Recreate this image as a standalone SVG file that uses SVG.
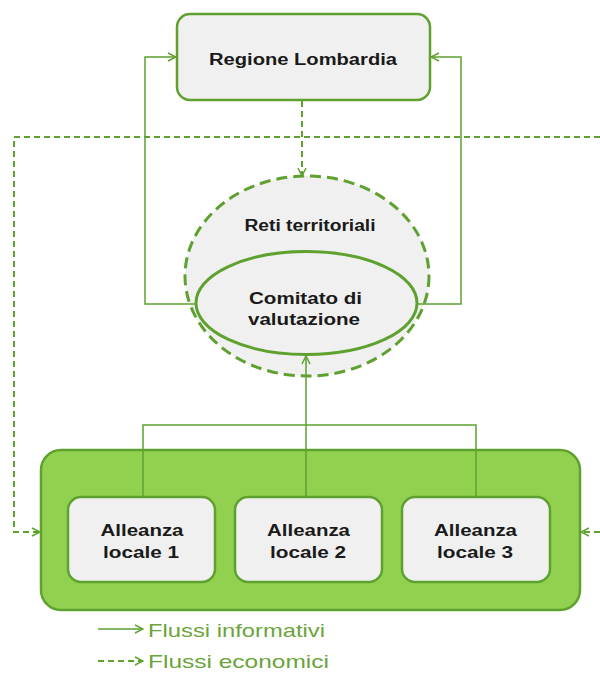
<svg xmlns="http://www.w3.org/2000/svg" width="600" height="678" viewBox="0 0 600 678">
<defs>
<style>
.box{fill:#f0f0f0;stroke:#5ea12f;stroke-width:2.5}
.lbl{font-family:"Liberation Sans",Arial,sans-serif;font-weight:bold;font-size:16px;fill:#1a1a1a;text-anchor:middle}
.leg{font-family:"Liberation Sans",Arial,sans-serif;font-size:19px;fill:#6aa43a}
.solid{fill:none;stroke:#5ea12f;stroke-width:1.5}
.dash{fill:none;stroke:#5ea12f;stroke-width:2;stroke-dasharray:6 4}
</style>
<marker id="ah" viewBox="0 0 10 10" refX="9" refY="5" markerWidth="10" markerHeight="10" markerUnits="userSpaceOnUse" orient="auto">
<path d="M1,1 L9,5 L1,9" fill="none" stroke="#5ea12f" stroke-width="1.5"/>
</marker>
</defs>
<rect width="600" height="678" fill="#ffffff"/>

<g id="alleanze-group">
<rect x="41" y="450" width="539" height="160" rx="20" fill="#92d050" stroke="#5ea12f" stroke-width="2.5"/>
</g>

<g id="regione">
<rect class="box" x="177" y="14" width="253" height="86" rx="13"/>
<text class="lbl" x="303" y="65" textLength="188" lengthAdjust="spacingAndGlyphs">Regione Lombardia</text>
</g>

<g id="reti">
<ellipse cx="307" cy="276" rx="122" ry="100" fill="#f0f0f0" stroke="#5ea12f" stroke-width="3" stroke-dasharray="11 6"/>
<text class="lbl" x="310" y="231" textLength="131" lengthAdjust="spacingAndGlyphs">Reti territoriali</text>
</g>

<g id="comitato">
<ellipse cx="306.5" cy="303" rx="110.5" ry="51.5" fill="#f0f0f0" stroke="#5ea12f" stroke-width="3"/>
<text class="lbl" x="305.5" y="304" textLength="113" lengthAdjust="spacingAndGlyphs">Comitato di</text>
<text class="lbl" x="304" y="325" textLength="112" lengthAdjust="spacingAndGlyphs">valutazione</text>
</g>

<g id="alleanza1">
<rect class="box" x="68" y="497" width="147" height="85" rx="13"/>
<text class="lbl" x="142" y="536" textLength="83" lengthAdjust="spacingAndGlyphs">Alleanza</text>
<text class="lbl" x="141" y="558" textLength="76" lengthAdjust="spacingAndGlyphs">locale 1</text>
</g>
<g id="alleanza2">
<rect class="box" x="235" y="497" width="147" height="85" rx="13"/>
<text class="lbl" x="308.5" y="536" textLength="83" lengthAdjust="spacingAndGlyphs">Alleanza</text>
<text class="lbl" x="308" y="558" textLength="76" lengthAdjust="spacingAndGlyphs">locale 2</text>
</g>
<g id="alleanza3">
<rect class="box" x="402" y="497" width="148" height="85" rx="13"/>
<text class="lbl" x="475.5" y="536" textLength="83" lengthAdjust="spacingAndGlyphs">Alleanza</text>
<text class="lbl" x="475" y="558" textLength="76" lengthAdjust="spacingAndGlyphs">locale 3</text>
</g>

<g id="connectors">
<path class="solid" d="M196,304 H145 V57 H176" marker-end="url(#ah)"/>
<path class="solid" d="M417,304 H461 V57 H431" marker-end="url(#ah)"/>
<path class="dash" d="M302,101 V176" stroke-width="1.5" marker-end="url(#ah)"/>
<path class="solid" d="M143,497 V425 H476 V497"/>
<path class="solid" d="M306,425 V497"/>
<path class="solid" d="M306,425 V356" stroke-width="2.5" marker-end="url(#ah)"/>
<path class="dash" d="M600,137 H14 V532 H40" marker-end="url(#ah)"/>
<path class="dash" d="M600,532 H581" marker-end="url(#ah)"/>
</g>

<g id="legend">
<path class="solid" d="M98,629 H143" marker-end="url(#ah)"/>
<text class="leg" x="148" y="637" textLength="177" lengthAdjust="spacingAndGlyphs">Flussi informativi</text>
<path class="dash" d="M98,661 H143" stroke-width="1.5" marker-end="url(#ah)"/>
<text class="leg" x="148" y="668" textLength="181" lengthAdjust="spacingAndGlyphs">Flussi economici</text>
</g>
</svg>
